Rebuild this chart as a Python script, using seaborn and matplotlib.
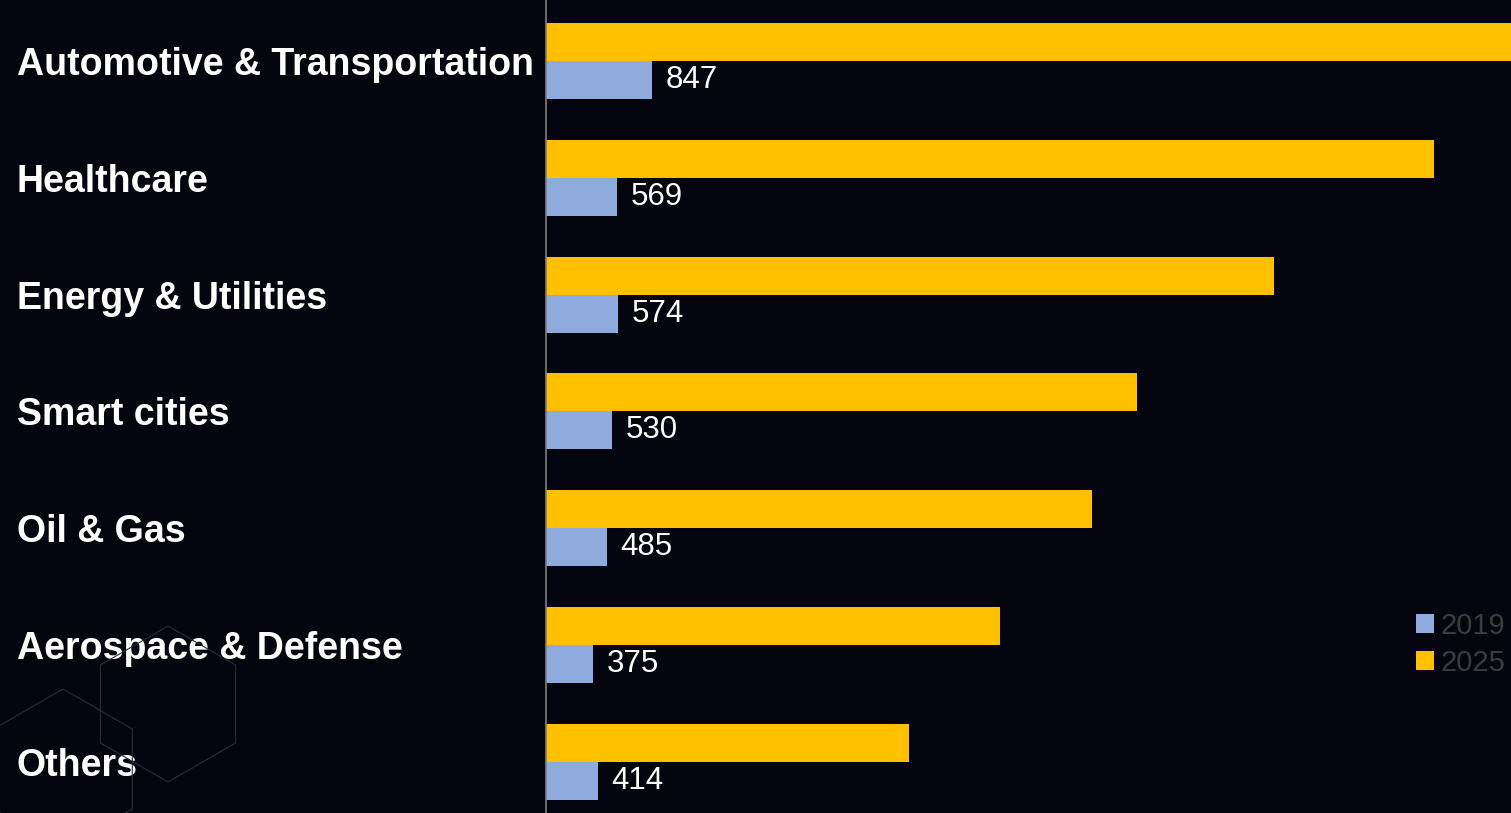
import matplotlib
matplotlib.use("Agg")
import matplotlib.pyplot as plt
from matplotlib.patches import RegularPolygon, Patch
import seaborn as sns
import pandas as pd

categories = ["Automotive & Transportation", "Healthcare", "Energy & Utilities",
              "Smart cities", "Oil & Gas", "Aerospace & Defense", "Others"]
values_2019 = [847, 569, 574, 530, 485, 375, 414]
values_2025 = [8300, 7100, 5820, 4730, 4370, 3630, 2900]
years = ["2025", "2019"]

bg = "#05050F"
c2019 = "#8FAADC"
c2025 = "#FFC000"

df = pd.DataFrame({
    "category": categories * 2,
    "year": ["2025"] * len(categories) + ["2019"] * len(categories),
    "value": values_2025 + values_2019,
})

sns.set_theme(style="dark")
plt.rcParams['font.family'] = ['Liberation Sans', 'DejaVu Sans']

fig = plt.figure(figsize=(15.11, 8.13), dpi=100, facecolor=bg)

# faint decorative hexagons (behind everything)
for (cx, cy, r) in [(168, 704, 78), (63, 769, 80)]:
    hexa = RegularPolygon((cx / 100, (813 - cy) / 100), numVertices=6, radius=r / 100,
                          orientation=0, transform=fig.dpi_scale_trans, fill=False,
                          edgecolor="#22313d", linewidth=0.8, zorder=0)
    fig.patches.append(hexa)

ax = fig.add_axes([546 / 1511, 0, 1 - 546 / 1511, 1])
ax.set_facecolor(bg)
ax.patch.set_alpha(0)

sns.barplot(data=df, y="category", x="value", hue="year", hue_order=years,
            palette={"2025": c2025, "2019": c2019}, orient="h", width=0.65,
            order=categories, ax=ax, legend=False, saturation=1, linewidth=0,
            edgecolor="none")

ax.set_xlim(0, 7720)
ax.set_ylim(6.44, -0.523)
ax.set_xlabel("")
ax.set_ylabel("")
ax.set_xticks([])
for s in ["top", "right", "bottom"]:
    ax.spines[s].set_visible(False)
ax.spines["left"].set_color("#7f7f7f")
ax.spines["left"].set_linewidth(1.2)
ax.grid(False)

ax.tick_params(axis="y", length=0, pad=381, labelsize=27, labelcolor="white")
for lbl in ax.get_yticklabels():
    lbl.set_horizontalalignment("left")
    lbl.set_fontweight("bold")

# value labels for 2019 bars (second hue level)
ax.bar_label(ax.containers[1], labels=[str(v) for v in values_2019], padding=10,
             color="white", fontsize=22.5)

# legend
handles = [Patch(facecolor=c2019, edgecolor="none", label="2019"),
           Patch(facecolor=c2025, edgecolor="none", label="2025")]
leg = fig.legend(handles=handles, loc="upper left",
                 bbox_to_anchor=(1416 / 1511, 1 - 612 / 813),
                 frameon=False, fontsize=21, handlelength=0.6, handleheight=0.6,
                 handletextpad=0.25, labelspacing=0.3, borderpad=0, borderaxespad=0)
for t in leg.get_texts():
    t.set_color("#3c3c3c")

fig.savefig("out.png", dpi=100, facecolor=bg)
